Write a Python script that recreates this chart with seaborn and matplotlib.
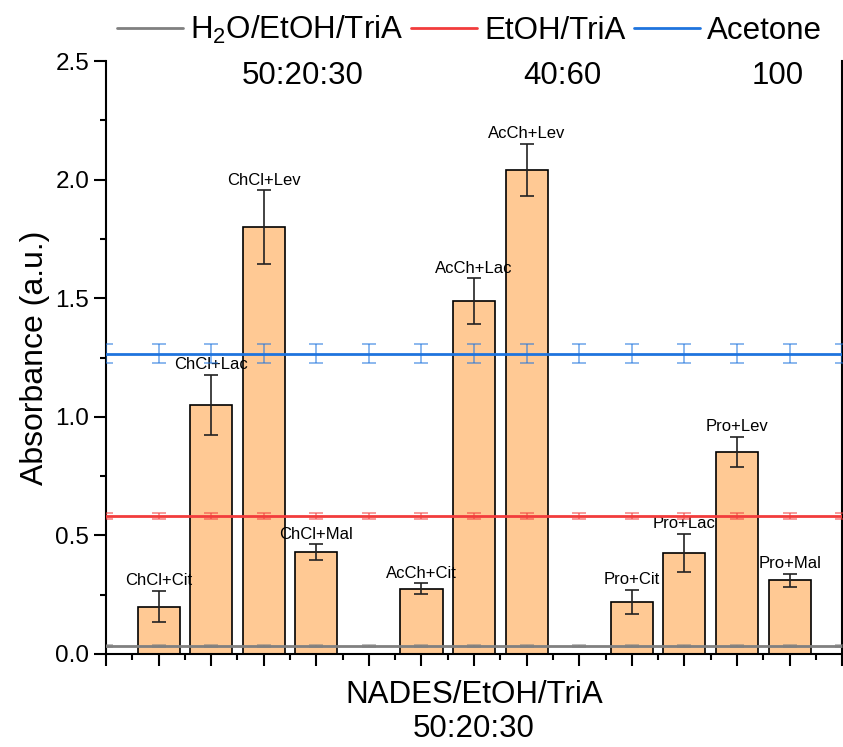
import matplotlib
matplotlib.use('Agg')
import matplotlib.pyplot as plt
from matplotlib.lines import Line2D
from matplotlib.ticker import MultipleLocator
import pandas as pd
import seaborn as sns

# NADES bars (positions 5 and 9 are empty gaps in the original)
positions = [1, 2, 3, 4, 6, 7, 8, 10, 11, 12, 13]
labels = ['ChCl+Cit', 'ChCl+Lac', 'ChCl+Lev', 'ChCl+Mal',
          'AcCh+Cit', 'AcCh+Lac', 'AcCh+Lev',
          'Pro+Cit', 'Pro+Lac', 'Pro+Lev', 'Pro+Mal']
absorbance = [0.20, 1.05, 1.80, 0.43, 0.275, 1.487, 2.042, 0.219, 0.426, 0.852, 0.311]
errors = [0.065, 0.127, 0.155, 0.032, 0.023, 0.097, 0.109, 0.05, 0.08, 0.063, 0.028]

# reference solvents
ref_names = ['H$_2$O/EtOH/TriA', 'EtOH/TriA', 'Acetone']
ref_ratios = ['50:20:30', '40:60', '100']
ref_values = [0.034, 0.582, 1.266]
ref_errors = [0.004, 0.012, 0.04]
ref_colors = ['#808080', '#F23C3C', '#1F74DE']
ref_x = list(range(0, 15))

sns.set_style('ticks')
plt.rcParams['font.family'] = ['Liberation Sans', 'DejaVu Sans']
plt.rcParams['mathtext.default'] = 'regular'
plt.rcParams['text.color'] = 'black'
plt.rcParams['axes.labelcolor'] = 'black'
plt.rcParams['xtick.color'] = 'black'
plt.rcParams['ytick.color'] = 'black'

df = pd.DataFrame({'pos': positions, 'absorbance': absorbance, 'label': labels})

fig = plt.figure(figsize=(8.43, 7.47), dpi=100)
ax = fig.add_axes([0.1257, 0.1245, 0.8733, 0.7938])

sns.barplot(data=df, x='pos', y='absorbance', native_scale=True, width=0.8,
            color='#FFC994', saturation=1, edgecolor='black', linewidth=1.2,
            errorbar=None, ax=ax, zorder=2)
ax.errorbar(positions, absorbance, yerr=errors, fmt='none', ecolor='#222222',
            elinewidth=1.2, capsize=5, capthick=1.2, zorder=3)

for x, y, e, lab in zip(positions, absorbance, errors, labels):
    ax.annotate(lab, (x, y + e), xytext=(0, 2), textcoords='offset points',
                ha='center', va='bottom', fontsize=12)

for name, val, err, col in zip(ref_names, ref_values, ref_errors, ref_colors):
    ax.axhline(val, color=col, lw=2, zorder=4)
    ax.errorbar(ref_x, [val] * len(ref_x), yerr=err, fmt='none', ecolor=col,
                alpha=0.6, elinewidth=1.2, capsize=5, capthick=1.2, zorder=4,
                clip_on=True)

ax.set_xlim(0, 14)
ax.set_ylim(0, 2.5)
ax.xaxis.set_major_locator(MultipleLocator(1))
ax.xaxis.set_minor_locator(MultipleLocator(0.5))
ax.yaxis.set_major_locator(MultipleLocator(0.5))
ax.yaxis.set_minor_locator(MultipleLocator(0.25))
ax.set_xticklabels([])
ax.yaxis.set_major_formatter(matplotlib.ticker.FormatStrFormatter('%.1f'))
ax.tick_params(axis='both', which='major', length=8.5, width=1.5, labelsize=17.5, direction='out')
ax.tick_params(axis='both', which='minor', length=4, width=1.5, direction='out')
ax.tick_params(axis='x', which='both', labelbottom=False)

for side in ['left', 'bottom', 'right']:
    ax.spines[side].set_linewidth(1.5)
    ax.spines[side].set_color('black')
ax.spines['top'].set_visible(False)

ax.set_ylabel('Absorbance (a.u.)', fontsize=23)
ax.set_xlabel('NADES/EtOH/TriA\n50:20:30', fontsize=22.5, labelpad=10)

handles = [Line2D([0], [0], color=c, lw=2) for c in ref_colors]
ax.legend(handles, ref_names, loc='center', bbox_to_anchor=(0.494, 1.052), ncol=3,
          frameon=False, fontsize=22.5, handlelength=2.1, handletextpad=0.25,
          columnspacing=0.25, borderaxespad=0)

for xf, txt in zip([0.267, 0.620, 0.912], ref_ratios):
    ax.text(xf, 0.975, txt, transform=ax.transAxes, ha='center', va='center', fontsize=22.5)

fig.savefig('out.png', dpi=100)
